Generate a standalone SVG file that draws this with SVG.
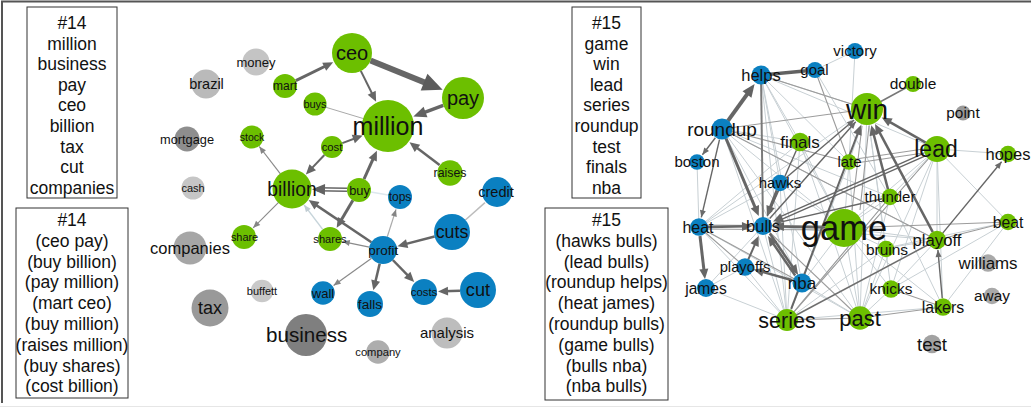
<svg xmlns="http://www.w3.org/2000/svg" width="1031" height="408" viewBox="0 0 1031 408">
<style>
.t{font-family:"Liberation Sans",Arial,Helvetica,sans-serif;text-anchor:middle;fill:#111}
.bx{font-family:"Liberation Sans",Arial,Helvetica,sans-serif;text-anchor:middle;fill:#111;font-size:17.5px}
.box{fill:#fff;stroke:#333;stroke-width:1}
.g{fill:#6cbf00}
.b{fill:#0b80c1}
.dk{stroke:#666;fill:none}
.md{stroke:#8a8a8a;fill:none;stroke-width:1.2}
.gr{stroke:#9c9c9c;fill:none;stroke-width:1.1}
.lt{stroke:#c8d0d4;fill:none;stroke-width:1}
</style>
<defs>
<marker id="aS" markerUnits="userSpaceOnUse" markerWidth="8" markerHeight="7" refX="7" refY="3" orient="auto" overflow="visible"><path d="M0,0 L7,3 L0,6 z" fill="#858585"/></marker>
<marker id="aSd" markerUnits="userSpaceOnUse" markerWidth="8" markerHeight="7" refX="7" refY="3" orient="auto" overflow="visible"><path d="M0,0 L7,3 L0,6 z" fill="#6a6a6a"/></marker>
<marker id="aSl" markerUnits="userSpaceOnUse" markerWidth="8" markerHeight="7" refX="7" refY="3" orient="auto" overflow="visible"><path d="M0,0 L7,3 L0,6 z" fill="#c0ccd2"/></marker>
<marker id="aM" markerUnits="userSpaceOnUse" markerWidth="10" markerHeight="9" refX="5" refY="4.5" orient="auto" overflow="visible"><path d="M0,0 L10,4.5 L0,9 z" fill="#666"/></marker>
<marker id="aL" markerUnits="userSpaceOnUse" markerWidth="13" markerHeight="11" refX="6" refY="5.5" orient="auto" overflow="visible"><path d="M0,0 L13,5.5 L0,11 z" fill="#626262"/></marker>
<marker id="aXL" markerUnits="userSpaceOnUse" markerWidth="20" markerHeight="18" refX="8" refY="9" orient="auto" overflow="visible"><path d="M0,0 L20,9 L0,18 z" fill="#5c5c5c"/></marker>
</defs>
<rect width="1031" height="408" fill="#fff"/>
<path d="M2,403 V1.5 H1031" fill="none" stroke="#555" stroke-width="2"/>
<line x1="0" y1="406.5" x2="1031" y2="406.5" stroke="#e6e6e6" stroke-width="1"/>

<g id="box14a">
<rect class="box" x="27" y="7" width="90" height="191"/>
<text class="bx" x="72" y="29">#14</text>
<text class="bx" x="72" y="49.6">million</text>
<text class="bx" x="72" y="70.2">business</text>
<text class="bx" x="72" y="90.8">pay</text>
<text class="bx" x="72" y="111.4">ceo</text>
<text class="bx" x="72" y="132">billion</text>
<text class="bx" x="72" y="152.6">tax</text>
<text class="bx" x="72" y="173.2">cut</text>
<text class="bx" x="72" y="193.8">companies</text>
</g>
<g id="box14b">
<rect class="box" x="16" y="208" width="112" height="190"/>
<text class="bx" x="72" y="226">#14</text>
<text class="bx" x="72" y="246.8">(ceo pay)</text>
<text class="bx" x="72" y="267.6">(buy billion)</text>
<text class="bx" x="72" y="288.4">(pay million)</text>
<text class="bx" x="72" y="309.2">(mart ceo)</text>
<text class="bx" x="72" y="330">(buy million)</text>
<text class="bx" x="72" y="350.8">(raises million)</text>
<text class="bx" x="72" y="371.6">(buy shares)</text>
<text class="bx" x="72" y="392.4">(cost billion)</text>
</g>
<g id="box15a">
<rect class="box" x="572" y="7" width="69" height="191"/>
<text class="bx" x="606.5" y="29">#15</text>
<text class="bx" x="606.5" y="49.6">game</text>
<text class="bx" x="606.5" y="70.2">win</text>
<text class="bx" x="606.5" y="90.8">lead</text>
<text class="bx" x="606.5" y="111.4">series</text>
<text class="bx" x="606.5" y="132">roundup</text>
<text class="bx" x="606.5" y="152.6">test</text>
<text class="bx" x="606.5" y="173.2">finals</text>
<text class="bx" x="606.5" y="193.8">nba</text>
</g>
<g id="box15b">
<rect class="box" x="545" y="208" width="123" height="192"/>
<text class="bx" x="606.5" y="226">#15</text>
<text class="bx" x="606.5" y="246.8">(hawks bulls)</text>
<text class="bx" x="606.5" y="267.6">(lead bulls)</text>
<text class="bx" x="606.5" y="288.4">(roundup helps)</text>
<text class="bx" x="606.5" y="309.2">(heat james)</text>
<text class="bx" x="606.5" y="330">(roundup bulls)</text>
<text class="bx" x="606.5" y="350.8">(game bulls)</text>
<text class="bx" x="606.5" y="371.6">(bulls nba)</text>
<text class="bx" x="606.5" y="392.4">(nba bulls)</text>
</g>

<g id="connectors">
<line x1="315" y1="104" x2="388" y2="126" stroke="#aaa" stroke-width="1"/>
<line x1="359" y1="190" x2="400" y2="197" stroke="#dde8ee" stroke-width="1.5"/>
<line x1="465.4" y1="220" x2="485" y2="202.6" stroke="#bcbcbc" stroke-width="1.5"/>
<path class="dk" d="M295.8,80.7 L328.7,64.5" stroke-width="3" marker-end="url(#aM)"/>
<path class="dk" d="M370.5,60.5 L431.5,85.2" stroke-width="6" stroke="#5c5c5c" marker-end="url(#aXL)"/>
<path class="dk" d="M360.8,70.9 L373.9,97.3" stroke-width="2" marker-end="url(#aM)"/>
<path class="dk" d="M443.3,105.3 L419.9,114.1" stroke-width="3.5" marker-end="url(#aL)"/>
<path class="dk" d="M342.3,143.1 L358,137.3" stroke-width="2" marker-end="url(#aM)"/>
<path class="dk" d="M439.6,165.1 L413.5,145.3" stroke-width="2.5" marker-end="url(#aM)"/>
<path class="dk" d="M364,179.1 L374.8,155.2" stroke-width="3" marker-end="url(#aM)"/>
<path class="dk" d="M324.4,155 L309.3,170.9" stroke-width="2" marker-end="url(#aM)"/>
<path class="dk" d="M347,188.2 L317,187.8 M347,191.2 L317,190.8" stroke-width="1.6"/>
<path d="M347,189.8 L319,189.4" stroke="none" fill="none" marker-end="url(#aL)"/>
<path class="dk" d="M371.4,242.2 L312.8,202.9" stroke-width="2.5" marker-end="url(#aM)"/>
<path d="M322.7,229.4 L304.1,204.9" stroke="#c6d4da" stroke-width="1.5" fill="none" marker-end="url(#aSl)"/>
<path class="dk" d="M352.9,200.3 L339.2,223.5" stroke-width="3" marker-end="url(#aM)"/>
<path class="md" d="M280.4,173.9 L259.3,146.5" marker-end="url(#aS)"/>
<path class="md" d="M278.6,202.4 L253.2,227.8" marker-end="url(#aS)"/>
<path class="md" d="M369.3,247.2 L342.7,241.6" marker-end="url(#aS)"/>
<path d="M387.3,236.7 L396,209.4" stroke="#aaa" stroke-width="1.2" fill="none" marker-end="url(#aS)"/>
<path class="dk" d="M434.6,236.5 L402.3,244.9" stroke-width="2.5" marker-end="url(#aM)"/>
<path class="md" d="M371.6,258.2 L333.6,285.4" marker-end="url(#aS)"/>
<path class="dk" d="M379.7,263.6 L374.5,285.5" stroke-width="2.5" marker-end="url(#aM)"/>
<path class="dk" d="M392.8,260 L410.7,278.4" stroke-width="2.5" marker-end="url(#aM)"/>
<path class="dk" d="M460,290.7 L443,291.3" stroke-width="2.5" marker-end="url(#aM)"/>

<path class="lt" d="M761,75 L867,109 M761,75 L844,228 M761,75 L849,162 M761,75 L937,149 M761,75 L800,142 M761,75 L780,183 M761,75 L787,320 M761,75 L802,283
M815,70 L855,51 M815,70 L890,197 M855,51 L849,162 M722,129 L844,228 M722,129 L802,283 M722,129 L800,142 M722,129 L890,197 M722,129 L937,240 M722,129 L787,320 M722,129 L860,318
M697,162 L699,227 M800,142 L844,228 M800,142 L787,320 M800,142 L860,318 M849,162 L860,318 M849,162 L787,320 M849,162 L844,228 M849,162 L867,109
M867,109 L860,318 M867,109 L891,289 M867,109 L886,248 M937,149 L844,228 M937,149 L787,320 M937,149 L860,318 M937,149 L937,240 M937,149 L890,197 M937,149 L1008,222 M937,149 L891,289 M937,149 L943,307
M890,197 L787,320 M890,197 L844,228 M890,197 L860,318 M890,197 L943,307 M780,183 L844,228 M780,183 L787,320 M699,227 L787,320 M699,227 L860,318 M699,227 L867,109 M699,227 L800,142 M699,227 L780,183
M763,226 L787,320 M763,226 L937,240 M844,228 L937,240 M844,228 L886,248 M844,228 L891,289 M844,228 L802,283 M844,228 L943,307 M844,228 L860,318 M937,240 L886,248 M937,240 L891,289
M787,320 L943,307 M706,288 L745,267 M706,288 L787,320 M745,267 L787,320 M802,283 L787,320 M802,283 L860,318 M886,248 L860,318 M886,248 L787,320 M891,289 L860,318 M1008,222 L891,289 M1008,222 L943,307 M706,288 L763,226 M937,149 L1008,154 M1008,222 L886,248"/>
<path class="gr" d="M722,129 L867,109 M699,225 L844,226 M699,229 L844,230 M844,228 L1008,222 M937,240 L1008,222 M787,320 L860,318 M860,318 L943,307 M815,70 L849,162 M761,75 L867,109 M722,129 L849,162 M862,126 L852,210 M869,126 L860,210 M787,320 L937,149 M763,226 L860,318 M699,227 L745,267 M699,227 L802,283 M891,289 L943,307 M787,320 L890,197 M849,160 L937,147 M849,164 L937,151 M722,129 L937,240"/>
<line x1="761" y1="75" x2="815" y2="70" stroke="#626262" stroke-width="3.5"/>
<line x1="761" y1="75" x2="763" y2="226" stroke="#7a7a7a" stroke-width="2"/>
<line x1="913" y1="84" x2="867" y2="109" stroke="#777" stroke-width="1.5"/>
<line x1="787" y1="320" x2="937" y2="240" stroke="#6e6e6e" stroke-width="1.5"/>
<path class="dk" d="M727.9,120.9 L750.5,89.6" stroke-width="4" marker-end="url(#aL)"/>
<path class="dk" d="M726,138.5 L756.8,211.3" stroke-width="3" marker-end="url(#aM)"/>
<path class="dk" d="M777,190.4 L768.8,211.2" stroke-width="3" marker-end="url(#aM)"/>
<path class="dk" d="M924.8,156.1 L778.2,220.9 M923.6,153.3 L777,218.1" stroke-width="1.4"/>
<path d="M924.2,154.7 L777.6,219.5" stroke="none" fill="none" marker-end="url(#aM)"/>
<path class="dk" d="M708,226.9 L747,226.3" stroke-width="2.5" marker-end="url(#aM)"/>
<path class="dk" d="M700,236 L704.4,274" stroke-width="3" marker-end="url(#aM)"/>
<path class="dk" d="M769.8,233.5 L795.3,270.7" stroke-width="2.5" marker-end="url(#aM)"/>
<path class="dk" d="M795.2,275.5 L770.8,240" stroke-width="2.5" marker-end="url(#aM)"/>
<path class="dk" d="M792.4,280.3 L758.5,270.8" stroke-width="2.5" marker-end="url(#aM)"/>
<path class="dk" d="M748.2,259.7 L756.6,240.6" stroke-width="2" marker-end="url(#aM)"/>
<path class="dk" d="M825,227.5 L779,226.4" stroke-width="2.5" marker-end="url(#aM)"/>
<path class="dk" d="M925.7,142.6 L886.1,119.9" stroke-width="2.5" marker-end="url(#aM)"/>
<path class="dk" d="M932.8,232.1 L877.4,128.4" stroke-width="2.5" marker-end="url(#aM)"/>
<path class="dk" d="M888,189.3 L872.6,130.2" stroke-width="2.5" marker-end="url(#aM)"/>
<path class="dk" d="M791.2,308.8 L859.2,129.6" stroke-width="2" marker-end="url(#aM)"/>
<path class="dk" d="M769.7,218.5 L855.7,121.7" stroke-width="1.4" marker-end="url(#aSd)"/>
<path class="dk" d="M786.1,177.8 L854.1,120" stroke-width="1.4" marker-end="url(#aSd)"/>
<path class="dk" d="M942.7,233.1 L1001.6,161.7" stroke-width="1.4" marker-end="url(#aSd)"/>
<path class="dk" d="M942.2,298 L937.9,250" stroke-width="1.4" marker-end="url(#aSd)"/>
<path class="dk" d="M715.4,137.8 L702.4,154.8" stroke-width="1.4" marker-end="url(#aSd)"/>
<path class="dk" d="M719.5,139.7 L701.3,217.3" stroke-width="1.4" marker-end="url(#aSd)"/>
<path class="dk" d="M796.4,150.2 L767.4,216" stroke-width="1.4" marker-end="url(#aSd)"/>
<path class="dk" d="M882.2,198.8 L773.7,223.6" stroke-width="1.4" marker-end="url(#aSd)"/>
</g>

<g id="n-ceo"><circle class="g" cx="352" cy="53" r="20"/><text class="t" x="352" y="60" font-size="20">ceo</text></g>
<g id="n-pay"><circle class="g" cx="463" cy="98" r="21"/><text class="t" x="463" y="105" font-size="20">pay</text></g>
<g id="n-million"><circle class="g" cx="388" cy="126" r="26"/><text class="t" x="388" y="134.5" font-size="25">million</text></g>
<g id="n-mart"><circle class="g" cx="285" cy="86" r="12"/><text class="t" x="285" y="90.2" font-size="12">mart</text></g>
<g id="n-buys"><circle class="g" cx="315" cy="104" r="11.5"/><text class="t" x="315" y="107.8" font-size="11">buys</text></g>
<g id="n-money"><circle cx="256" cy="62" r="13.5" fill="#c4c4c4"/><text class="t" x="256" y="66.5" font-size="13">money</text></g>
<g id="n-brazil"><circle cx="206" cy="84" r="14.5" fill="#bababa"/><text class="t" x="206.5" y="89" font-size="14.5">brazil</text></g>
<g id="n-mortgage"><circle cx="187" cy="139" r="12.5" fill="#8e8e8e"/><text class="t" x="187" y="143.5" font-size="12.8">mortgage</text></g>
<g id="n-stock"><circle class="g" cx="252" cy="137" r="11.5"/><text class="t" x="252" y="140.7" font-size="10.5">stock</text></g>
<g id="n-cost"><circle class="g" cx="332" cy="147" r="11"/><text class="t" x="332" y="151" font-size="11.3">cost</text></g>
<g id="n-raises"><circle class="g" cx="450" cy="173" r="12.7"/><text class="t" x="450" y="177.3" font-size="12.3">raises</text></g>
<g id="n-cash"><circle cx="193" cy="188" r="11.5" fill="#c6c6c6"/><text class="t" x="193" y="191.8" font-size="11">cash</text></g>
<g id="n-billion"><circle class="g" cx="292" cy="189" r="19.5"/><text class="t" x="292" y="195.7" font-size="19.3">billion</text></g>
<g id="n-buy"><circle class="g" cx="359" cy="190" r="12"/><text class="t" x="359.5" y="194.5" font-size="12.8">buy</text></g>
<g id="n-tops"><circle class="b" cx="400" cy="197" r="12"/><text class="t" x="400" y="201.2" font-size="12">tops</text></g>
<g id="n-credit"><circle class="b" cx="497" cy="192" r="15"/><text class="t" x="496" y="197.1" font-size="14.6">credit</text></g>
<g id="n-share"><circle class="g" cx="244" cy="237" r="12"/><text class="t" x="244.5" y="240.8" font-size="10.9">share</text></g>
<g id="n-companies"><circle cx="190" cy="248" r="16.5" fill="#a6a6a6"/><text class="t" x="190" y="253.8" font-size="16.5">companies</text></g>
<g id="n-shares"><circle class="g" cx="330" cy="239" r="12"/><text class="t" x="330" y="242.9" font-size="11.1">shares</text></g>
<g id="n-profit"><circle class="b" cx="383" cy="250" r="14"/><text class="t" x="383.3" y="254.7" font-size="13.5">profit</text></g>
<g id="n-cuts"><circle class="b" cx="452" cy="232" r="18"/><text class="t" x="452" y="238.2" font-size="17.8">cuts</text></g>
<g id="n-wall"><circle class="b" cx="323" cy="293" r="11.8"/><text class="t" x="323" y="297.5" font-size="13">wall</text></g>
<g id="n-falls"><circle class="b" cx="370" cy="304" r="13"/><text class="t" x="370" y="308.8" font-size="13.7">falls</text></g>
<g id="n-costs"><circle class="b" cx="424" cy="292" r="13"/><text class="t" x="424" y="296" font-size="11.4">costs</text></g>
<g id="n-cut"><circle class="b" cx="478" cy="290" r="18"/><text class="t" x="478" y="296.4" font-size="18.2">cut</text></g>
<g id="n-buffett"><circle cx="262" cy="291" r="11.3" fill="#c9c9c9"/><text class="t" x="262" y="294.8" font-size="11">buffett</text></g>
<g id="n-tax"><circle cx="210" cy="308" r="18.5" fill="#999"/><text class="t" x="210" y="314.3" font-size="18">tax</text></g>
<g id="n-business"><circle cx="306" cy="335" r="21" fill="#7f7f7f"/><text class="t" x="306.7" y="342" font-size="20.6">business</text></g>
<g id="n-analysis"><circle cx="447" cy="333" r="15.5" fill="#bdbdbd"/><text class="t" x="447" y="338.2" font-size="15">analysis</text></g>
<g id="n-company"><circle cx="378" cy="352" r="11.7" fill="#adadad"/><text class="t" x="378" y="355.9" font-size="11.2">company</text></g>

<g id="n-victory"><circle class="b" cx="855" cy="51" r="8"/><text class="t" x="855" y="56.3" font-size="15">victory</text></g>
<g id="n-helps"><circle class="b" cx="761" cy="75" r="9.5"/><text class="t" x="761" y="80.8" font-size="16.5">helps</text></g>
<g id="n-goal"><circle class="b" cx="815" cy="70" r="8"/><text class="t" x="814.5" y="75.3" font-size="15">goal</text></g>
<g id="n-double"><circle class="g" cx="913" cy="84" r="8"/><text class="t" x="913" y="89.4" font-size="15.5">double</text></g>
<g id="n-win"><circle class="g" cx="867" cy="109" r="16"/><text class="t" x="867" y="118.8" font-size="28">win</text></g>
<g id="n-point"><circle cx="963" cy="113" r="7.5" fill="#9a9a9a"/><text class="t" x="963" y="118.4" font-size="15.4">point</text></g>
<g id="n-roundup"><circle class="b" cx="722" cy="129" r="10.5"/><text class="t" x="722" y="135.6" font-size="19">roundup</text></g>
<g id="n-finals"><circle class="g" cx="800" cy="142" r="9.3"/><text class="t" x="800" y="148" font-size="17">finals</text></g>
<g id="n-lead"><circle class="g" cx="937" cy="149" r="13"/><text class="t" x="936" y="157" font-size="23">lead</text></g>
<g id="n-boston"><circle class="b" cx="697" cy="162" r="7.7"/><text class="t" x="697" y="167.2" font-size="15">boston</text></g>
<g id="n-late"><circle class="g" cx="849" cy="162" r="7.8"/><text class="t" x="849.5" y="167.2" font-size="15">late</text></g>
<g id="n-hopes"><circle class="g" cx="1008" cy="154" r="8.3"/><text class="t" x="1008" y="159.8" font-size="16.5">hopes</text></g>
<g id="n-hawks"><circle class="b" cx="780" cy="183" r="8.3"/><text class="t" x="780" y="188.2" font-size="15">hawks</text></g>
<g id="n-thunder"><circle class="g" cx="890" cy="197" r="8.3"/><text class="t" x="890" y="202.2" font-size="15">thunder</text></g>
<g id="n-heat"><circle class="b" cx="699" cy="227" r="8.8"/><text class="t" x="698" y="232.6" font-size="16">heat</text></g>
<g id="n-bulls"><circle class="b" cx="763" cy="226" r="9"/><text class="t" x="763" y="231.8" font-size="16.5">bulls</text></g>
<g id="n-game"><circle class="g" cx="844" cy="228" r="19"/><text class="t" x="844" y="240" font-size="34.5">game</text></g>
<g id="n-playoff"><circle class="g" cx="937" cy="240" r="9.2"/><text class="t" x="937" y="245.8" font-size="16.7">playoff</text></g>
<g id="n-beat"><circle class="g" cx="1008" cy="222" r="8.3"/><text class="t" x="1008" y="227.5" font-size="15.7">beat</text></g>
<g id="n-bruins"><circle class="g" cx="886" cy="249" r="8.3"/><text class="t" x="887" y="254.5" font-size="15.5">bruins</text></g>
<g id="n-williams"><circle cx="988" cy="263" r="8.7" fill="#a9a9a9"/><text class="t" x="988" y="268.9" font-size="16.9">williams</text></g>
<g id="n-playoffs"><circle class="b" cx="745" cy="267" r="8.7"/><text class="t" x="745" y="272.2" font-size="14.8">playoffs</text></g>
<g id="n-james"><circle class="b" cx="706" cy="288" r="9"/><text class="t" x="706" y="293.5" font-size="15.6">james</text></g>
<g id="n-nba"><circle class="b" cx="802" cy="283" r="9.5"/><text class="t" x="802" y="289" font-size="17">nba</text></g>
<g id="n-knicks"><circle class="g" cx="891" cy="289" r="8.7"/><text class="t" x="891" y="294.4" font-size="15.4">knicks</text></g>
<g id="n-away"><circle cx="992" cy="296" r="8.3" fill="#a9a9a9"/><text class="t" x="992" y="301.4" font-size="15.4">away</text></g>
<g id="n-lakers"><circle class="g" cx="943" cy="307" r="8.7"/><text class="t" x="943" y="312.6" font-size="15.9">lakers</text></g>
<g id="n-series"><circle class="g" cx="787" cy="320" r="11"/><text class="t" x="787" y="327.5" font-size="21.5">series</text></g>
<g id="n-past"><circle class="g" cx="860" cy="318" r="11.7"/><text class="t" x="860" y="325.7" font-size="22">past</text></g>
<g id="n-test"><circle cx="932" cy="344" r="9.2" fill="#a2a2a2"/><text class="t" x="932" y="350.5" font-size="18.6">test</text></g>
</svg>
